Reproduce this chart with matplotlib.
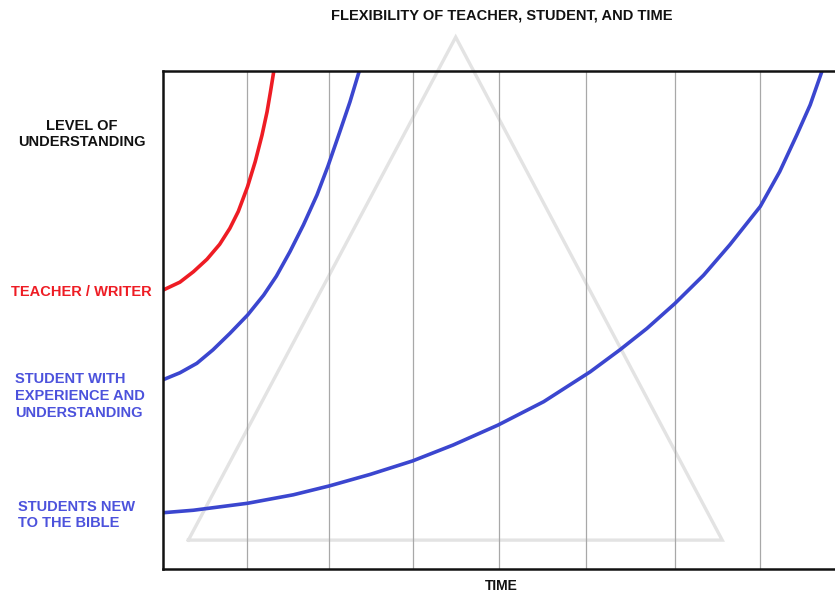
import matplotlib.pyplot as plt
import numpy as np

# values (x: time, grid lines ~ 1..7; y: level, 0..10)
teacher_x = [0, 0.20, 0.36, 0.52, 0.67, 0.79, 0.89, 1.00, 1.09, 1.17, 1.23, 1.27, 1.31]
teacher_y = [5.60, 5.76, 5.97, 6.22, 6.52, 6.84, 7.18, 7.68, 8.18, 8.71, 9.18, 9.58, 10.0]

exp_x = [0, 0.20, 0.40, 0.59, 0.79, 1.00, 1.19, 1.34, 1.50, 1.66, 1.82, 1.95, 2.09, 2.21, 2.32]
exp_y = [3.80, 3.94, 4.13, 4.40, 4.73, 5.10, 5.50, 5.88, 6.37, 6.91, 7.51, 8.09, 8.78, 9.38, 10.0]

new_x = [0, 0.36, 1.00, 1.54, 1.97, 2.45, 2.95, 3.43, 3.96, 4.50, 5.05,
         5.40, 5.72, 6.05, 6.39, 6.70, 7.06, 7.29, 7.49, 7.65, 7.79]
new_y = [1.13, 1.18, 1.32, 1.49, 1.67, 1.90, 2.17, 2.49, 2.89, 3.36, 3.96,
         4.40, 4.83, 5.33, 5.90, 6.51, 7.28, 7.98, 8.71, 9.32, 10.0]

grid_x = [0.99, 1.96, 2.96, 3.97, 5.0, 6.05, 7.06]
tri_x = [0.30, 3.46, 6.61, 0.30]
tri_y = [0.58, 10.68, 0.58, 0.58]

red = '#ee1c24'
blue = '#3b46cf'
blue_txt = '#4c52dc'
font = ['Liberation Sans', 'DejaVu Sans']

fig = plt.figure(figsize=(8.35, 5.94), dpi=100)
ax = fig.add_axes([163 / 835, 25 / 594, 672 / 835, 498 / 594])
ax.set_xlim(0, 672 / 84.6)
ax.set_ylim(0, 10)

for gx in grid_x:
    ax.axvline(gx, color='#a8a8a8', lw=0.9, zorder=1)

ax.plot(tri_x, tri_y, color='#e3e3e3', lw=2.4, clip_on=False, zorder=0,
        solid_joinstyle='miter')

for xs, ys, c in [(teacher_x, teacher_y, red), (exp_x, exp_y, blue), (new_x, new_y, blue)]:
    ax.plot(xs, ys, color=c, lw=2.6, zorder=3, solid_joinstyle='round')

ax.set_xticks([])
ax.set_yticks([])
for s in ['left', 'top', 'bottom']:
    ax.spines[s].set_linewidth(1.8)
    ax.spines[s].set_color('#111111')
    ax.spines[s].set_zorder(4)
ax.spines['right'].set_visible(False)


def label(x, y, s, color='#111111', ha='center', size=10.5):
    fig.text(x / 835, 1 - y / 594, s, color=color, ha=ha, va='center',
             fontsize=size, fontweight='bold', family=font, linespacing=1.25)


label(502, 16, 'FLEXIBILITY OF TEACHER, STUDENT, AND TIME')
label(82, 134, 'LEVEL OF\nUNDERSTANDING')
label(11, 292, 'TEACHER / WRITER', color=red, ha='left')
label(15, 396, 'STUDENT WITH\nEXPERIENCE AND\nUNDERSTANDING', color=blue_txt, ha='left')
label(18, 515, 'STUDENTS NEW\nTO THE BIBLE', color=blue_txt, ha='left')
label(501, 586, 'TIME', size=10)

fig.savefig('out.png', dpi=100)
